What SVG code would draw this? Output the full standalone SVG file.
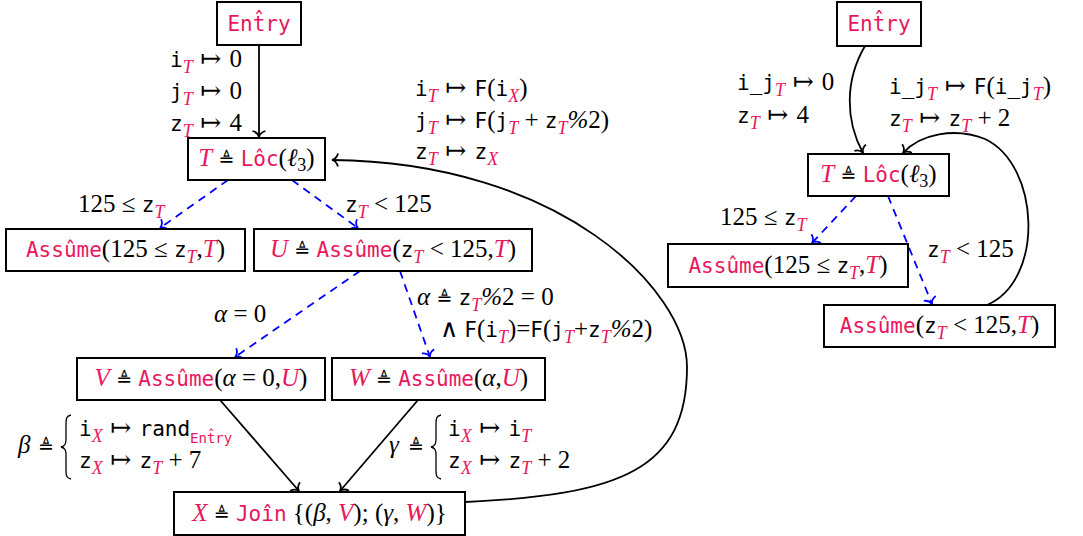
<svg xmlns="http://www.w3.org/2000/svg" width="1083" height="536" viewBox="0 0 1083 536">
<style>
text{font-family:"Liberation Serif",serif;font-size:25px;fill:#000}
.c{text-anchor:middle}
.m{font-family:"DejaVu Sans Mono",monospace;font-size:21px}
.r{fill:#e8175d}
.i{font-style:italic}
.y{font-family:"DejaVu Sans",sans-serif;font-size:19px}
.a{font-family:"DejaVu Sans ExtraLight","DejaVu Serif","DejaVu Sans",sans-serif;font-size:25px}
.b{font-size:18px}
.bs{font-family:"DejaVu Sans Mono",monospace;font-size:14px}
.box{fill:#fff;stroke:#000;stroke-width:2}
.e{fill:none;stroke:#000;stroke-width:1.8}
.d{fill:none;stroke:#0000ff;stroke-width:1.8;stroke-dasharray:8 6}
.br{fill:none;stroke:#000;stroke-width:1.3}
</style>
<defs>
<marker id="ak" markerUnits="userSpaceOnUse" markerWidth="16" markerHeight="16" viewBox="-8 -8 10 16" refX="0" refY="0" orient="auto"><path d="M-6,-6.5 C-5,-2.5 -2,-0.5 0,0 C-2,0.5 -5,2.5 -6,6.5" fill="none" stroke="#000" stroke-width="1.8"/></marker>
<marker id="ab" markerUnits="userSpaceOnUse" markerWidth="16" markerHeight="16" viewBox="-8 -8 10 16" refX="0" refY="0" orient="auto"><path d="M-6,-6.5 C-5,-2.5 -2,-0.5 0,0 C-2,0.5 -5,2.5 -6,6.5" fill="none" stroke="#0000ff" stroke-width="1.8"/></marker>
</defs>

<g id="connectors">
<path class="e" d="M259,45 L259,137" marker-end="url(#ak)"/>
<path class="d" d="M228,180 L160,228" marker-end="url(#ab)"/>
<path class="d" d="M292,180 L358,228" marker-end="url(#ab)"/>
<path class="d" d="M360,271 L235,357" marker-end="url(#ab)"/>
<path class="d" d="M400,271 L430,357" marker-end="url(#ab)"/>
<path class="e" d="M220,400 L299,491" marker-end="url(#ak)"/>
<path class="e" d="M418,400 L340,491" marker-end="url(#ak)"/>
<path class="e" d="M465,502 C620,495 687,470 687,367 C687,290 560,162 332,160" marker-end="url(#ak)"/>
<path class="e" d="M865,46 C845,80 845,120 863,153" marker-end="url(#ak)"/>
<path class="e" d="M987,305 C1045,280 1040,165 985,139 C955,127 920,134 903,153" marker-end="url(#ak)"/>
<path class="d" d="M856,196 L812,243" marker-end="url(#ab)"/>
<path class="d" d="M888,196 L932,304" marker-end="url(#ab)"/>
</g>

<g id="labels">
<text x="170" y="67"><tspan class="m">i</tspan><tspan class="r i b" dy="6">T</tspan><tspan class="a" dy="-6"> ↦ </tspan>0</text>
<text x="170" y="99"><tspan class="m">j</tspan><tspan class="r i b" dy="6">T</tspan><tspan class="a" dy="-6"> ↦ </tspan>0</text>
<text x="170" y="131"><tspan class="m">z</tspan><tspan class="r i b" dy="6">T</tspan><tspan class="a" dy="-6"> ↦ </tspan>4</text>

<text x="415" y="96"><tspan class="m">i</tspan><tspan class="r i b" dy="6">T</tspan><tspan class="a" dy="-6"> ↦ </tspan><tspan class="m">F</tspan>(<tspan class="m">i</tspan><tspan class="r i b" dy="6">X</tspan><tspan dy="-6">)</tspan></text>
<text x="415" y="128"><tspan class="m">j</tspan><tspan class="r i b" dy="6">T</tspan><tspan dy="-6" class="a"> ↦ </tspan><tspan class="m">F</tspan>(<tspan class="m">j</tspan><tspan class="r i b" dy="6">T</tspan><tspan dy="-6"> + </tspan><tspan class="m">z</tspan><tspan class="r i b" dy="6">T</tspan><tspan dy="-6"><tspan class="i">%</tspan>2)</tspan></text>
<text x="415" y="159"><tspan class="m">z</tspan><tspan class="r i b" dy="6">T</tspan><tspan class="a" dy="-6"> ↦ </tspan><tspan class="m">z</tspan><tspan class="r i b" dy="6">X</tspan></text>

<text x="78" y="212">125 ≤ <tspan class="m">z</tspan><tspan class="r i b" dy="6">T</tspan></text>
<text x="345" y="212"><tspan class="m">z</tspan><tspan class="r i b" dy="6">T</tspan><tspan dy="-6"> &lt; 125</tspan></text>
<text x="214" y="322"><tspan class="i">α</tspan> = 0</text>
<text x="417" y="305"><tspan class="i">α</tspan> <tspan class="y">≜</tspan> <tspan class="m">z</tspan><tspan class="r i b" dy="6">T</tspan><tspan dy="-6"><tspan class="i">%</tspan>2 = 0</tspan></text>
<text x="440" y="337">∧ <tspan class="m">F</tspan>(<tspan class="m">i</tspan><tspan class="r i b" dy="6">T</tspan><tspan dy="-6">)=</tspan><tspan class="m">F</tspan>(<tspan class="m">j</tspan><tspan class="r i b" dy="6">T</tspan><tspan dy="-6">+</tspan><tspan class="m">z</tspan><tspan class="r i b" dy="6">T</tspan><tspan dy="-6"><tspan class="i">%</tspan>2)</tspan></text>

<text x="18" y="453" class="i">β</text>
<text x="38" y="453" class="y">≜</text>
<path class="br" d="M71,415 C66,416 66,419 66,424 L66,439 C66,444 65,446 61,447 C65,448 66,450 66,455 L66,470 C66,475 66,478 71,479"/>
<text x="79" y="436"><tspan class="m">i</tspan><tspan class="r i b" dy="6">X</tspan><tspan class="a" dy="-6"> ↦ </tspan><tspan class="m">rand</tspan><tspan class="bs r" dy="7">Ent̂ry</tspan></text>
<text x="79" y="468"><tspan class="m">z</tspan><tspan class="r i b" dy="6">X</tspan><tspan class="a" dy="-6"> ↦ </tspan><tspan class="m">z</tspan><tspan class="r i b" dy="6">T</tspan><tspan dy="-6"> + 7</tspan></text>

<text x="389" y="453" class="i">γ</text>
<text x="408" y="453" class="y">≜</text>
<path class="br" d="M441,415 C436,416 436,419 436,424 L436,439 C436,444 435,446 431,447 C435,448 436,450 436,455 L436,470 C436,475 436,478 441,479"/>
<text x="448" y="436"><tspan class="m">i</tspan><tspan class="r i b" dy="6">X</tspan><tspan class="a" dy="-6"> ↦ </tspan><tspan class="m">i</tspan><tspan class="r i b" dy="6">T</tspan></text>
<text x="448" y="468"><tspan class="m">z</tspan><tspan class="r i b" dy="6">X</tspan><tspan class="a" dy="-6"> ↦ </tspan><tspan class="m">z</tspan><tspan class="r i b" dy="6">T</tspan><tspan dy="-6"> + 2</tspan></text>

<text x="737" y="90"><tspan class="m">i_j</tspan><tspan class="r i b" dy="6">T</tspan><tspan class="a" dy="-6"> ↦ </tspan>0</text>
<text x="737" y="123"><tspan class="m">z</tspan><tspan class="r i b" dy="6">T</tspan><tspan class="a" dy="-6"> ↦ </tspan>4</text>
<text x="889" y="94"><tspan class="m">i_j</tspan><tspan class="r i b" dy="6">T</tspan><tspan class="a" dy="-6"> ↦ </tspan><tspan class="m">F</tspan>(<tspan class="m">i_j</tspan><tspan class="r i b" dy="6">T</tspan><tspan dy="-6">)</tspan></text>
<text x="889" y="126"><tspan class="m">z</tspan><tspan class="r i b" dy="6">T</tspan><tspan class="a" dy="-6"> ↦ </tspan><tspan class="m">z</tspan><tspan class="r i b" dy="6">T</tspan><tspan dy="-6"> + 2</tspan></text>
<text x="720" y="225">125 ≤ <tspan class="m">z</tspan><tspan class="r i b" dy="6">T</tspan></text>
<text x="927" y="257"><tspan class="m">z</tspan><tspan class="r i b" dy="6">T</tspan><tspan dy="-6"> &lt; 125</tspan></text>
</g>

<g id="L_entry"><rect class="box" x="217" y="2" width="84" height="43"/><text x="259" y="31" class="c m r">Ent̂ry</text></g>
<g id="L_T"><rect class="box" x="188" y="138" width="137" height="42"/><text x="256.5" y="166" class="c"><tspan class="r i">T</tspan> <tspan class="y">≜</tspan> <tspan class="m r">Lôc</tspan>(<tspan class="i">ℓ</tspan><tspan class="b" dy="5">3</tspan><tspan dy="-5">)</tspan></text></g>
<g id="L_A1"><rect class="box" x="6" y="229" width="239" height="42"/><text x="125.5" y="257" class="c"><tspan class="m r">Assûme</tspan>(125 ≤ <tspan class="m">z</tspan><tspan class="r i b" dy="6">T</tspan><tspan dy="-6">,</tspan><tspan class="r i">T</tspan>)</text></g>
<g id="L_U"><rect class="box" x="254" y="229" width="278" height="42"/><text x="393" y="257" class="c"><tspan class="r i">U</tspan> <tspan class="y">≜</tspan> <tspan class="m r">Assûme</tspan>(<tspan class="m">z</tspan><tspan class="r i b" dy="6">T</tspan><tspan dy="-6"> &lt; 125,</tspan><tspan class="r i">T</tspan>)</text></g>
<g id="L_V"><rect class="box" x="77" y="358" width="248" height="42"/><text x="201" y="386" class="c"><tspan class="r i">V</tspan> <tspan class="y">≜</tspan> <tspan class="m r">Assûme</tspan>(<tspan class="i">α</tspan> = 0,<tspan class="r i">U</tspan>)</text></g>
<g id="L_W"><rect class="box" x="332" y="358" width="213" height="42"/><text x="438.5" y="386" class="c"><tspan class="r i">W</tspan> <tspan class="y">≜</tspan> <tspan class="m r">Assûme</tspan>(<tspan class="i">α</tspan>,<tspan class="r i">U</tspan>)</text></g>
<g id="L_X"><rect class="box" x="174" y="492" width="291" height="43"/><text x="319.5" y="521" class="c"><tspan class="r i">X</tspan> <tspan class="y">≜</tspan> <tspan class="m r">Joîn</tspan> {(<tspan class="i">β</tspan>, <tspan class="r i">V</tspan>); (<tspan class="i">γ</tspan>, <tspan class="r i">W</tspan>)}</text></g>

<g id="R_entry"><rect class="box" x="837" y="2" width="84" height="44"/><text x="879" y="31" class="c m r">Ent̂ry</text></g>
<g id="R_T"><rect class="box" x="808" y="154" width="141" height="42"/><text x="878.5" y="182" class="c"><tspan class="r i">T</tspan> <tspan class="y">≜</tspan> <tspan class="m r">Lôc</tspan>(<tspan class="i">ℓ</tspan><tspan class="b" dy="5">3</tspan><tspan dy="-5">)</tspan></text></g>
<g id="R_A1"><rect class="box" x="668" y="244" width="240" height="43"/><text x="788" y="273" class="c"><tspan class="m r">Assûme</tspan>(125 ≤ <tspan class="m">z</tspan><tspan class="r i b" dy="6">T</tspan><tspan dy="-6">,</tspan><tspan class="r i">T</tspan>)</text></g>
<g id="R_A2"><rect class="box" x="824" y="305" width="231" height="42"/><text x="939.5" y="333" class="c"><tspan class="m r">Assûme</tspan>(<tspan class="m">z</tspan><tspan class="r i b" dy="6">T</tspan><tspan dy="-6"> &lt; 125,</tspan><tspan class="r i">T</tspan>)</text></g>
</svg>
